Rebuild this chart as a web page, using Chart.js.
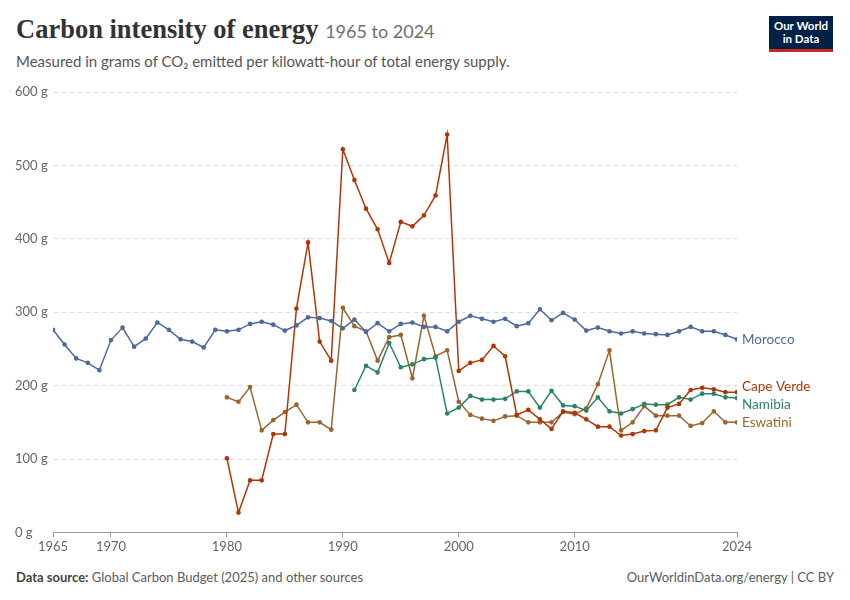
<!DOCTYPE html>
<html>
<head>
<meta charset="utf-8">
<script src="https://cdn.jsdelivr.net/npm/chart.js@4"></script>
<style>
  body { margin:0; width:850px; height:600px; background:#fff; font-family: Lato, "Open Sans", sans-serif; position:relative; overflow:hidden; }
  #title { position:absolute; left:16px; top:14px; font-family:"Liberation Serif", "DejaVu Serif", serif; font-weight:bold; font-size:26.5px; color:#333; }
  #title span { font-family: Lato, sans-serif; font-weight:normal; font-size:18px; color:#6e6e6e; }
  #sub { position:absolute; left:16px; top:52px; font-size:15px; color:#555; }
  #logo { position:absolute; left:769px; top:16px; width:64px; height:36px; background:#002147; border-bottom:3px solid #ce261e; color:#fff; font-size:11.5px; font-weight:bold; text-align:center; line-height:13px; padding-top:3px; box-sizing:border-box; }
  #foot { position:absolute; left:16px; top:569px; font-size:13px; color:#5b5b5b; }
  #foot b { color:#444; }
  #foot2 { position:absolute; right:16px; top:569px; font-size:13px; color:#5b5b5b; }
  #wrap { position:absolute; left:0; top:80px; width:850px; height:477px; }
</style>
</head>
<body>
<div id="title">Carbon intensity of energy <span>1965 to 2024</span></div>
<div id="sub">Measured in grams of CO₂ emitted per kilowatt-hour of total energy supply.</div>
<div id="logo">Our World<br>in Data</div>
<div id="wrap"><canvas id="c"></canvas></div>
<div id="foot"><b>Data source:</b> Global Carbon Budget (2025) and other sources</div>
<div id="foot2">OurWorldinData.org/energy | CC BY</div>
<script>
// --- data ---
const morocco = [276,256,237,231,221,262,279,253,264,286,276,263,260,252,276,274,276,284,287,283,
  275,282,293,292,288,278,290,273,285,274,284,286,280,280,274,287,295,291,287,291,
  281,285,304,289,299,290,275,279,274,271,274,271,270,269,274,280,274,274,269,263];
const capeVerde = [101,27,71,71,134,134,305,395,260,234,522,480,441,413,367,423,417,432,459,542,
  220,231,235,254,240,160,167,154,141,165,163,154,144,144,132,134,138,139,170,175,194,197,195,191,191];
const namibia = [194,227,218,258,225,229,236,238,162,170,186,181,181,182,192,192,170,193,173,172,
  166,184,165,162,168,175,174,174,184,181,189,189,184,183];
const eswatini = [184,178,198,139,153,164,174,150,150,140,306,281,274,234,266,269,210,295,240,248,
  178,160,155,152,158,159,150,150,150,164,161,169,202,248,139,150,172,159,159,159,145,149,165,150,150];
const xTicks = [1965,1970,1980,1990,2000,2010,2024];
const yTicks = [0,100,200,300,400,500,600];

const toPts = (arr, start) => arr.map((v, i) => ({ x: start + i, y: v }));

const series = [
  { label: 'Morocco', data: toPts(morocco, 1965), color: '#4c6a9c' },
  { label: 'Cape Verde', data: toPts(capeVerde, 1980), color: '#b13507' },
  { label: 'Namibia', data: toPts(namibia, 1991), color: '#2c8465' },
  { label: 'Eswatini', data: toPts(eswatini, 1980), color: '#9a652e' }
];

// labels at the end of each line, spread apart symmetrically if they overlap
const endLabels = {
  id: 'endLabels',
  afterDatasetsDraw(chart) {
    const ctx = chart.ctx;
    const items = chart.data.datasets.map((ds, i) => {
      const meta = chart.getDatasetMeta(i);
      const p = meta.data[meta.data.length - 1];
      return { text: ds.label, color: ds.borderColor, x: p.x, y: p.y };
    }).sort((a, b) => a.y - b.y);
    for (let k = 0; k < 30; k++) {
      for (let i = 1; i < items.length; i++) {
        const gap = items[i].y - items[i - 1].y;
        if (gap < 18) { const d = (18 - gap) / 2; items[i].y += d; items[i - 1].y -= d; }
      }
    }
    ctx.save();
    ctx.font = '13.5px Lato';
    ctx.textBaseline = 'middle';
    items.forEach(it => {
      ctx.fillStyle = it.color;
      ctx.fillText(it.text, it.x + 5, it.y);
    });
    ctx.restore();
  }
};

new Chart(document.getElementById('c'), {
  type: 'line',
  data: {
    datasets: series.map(s => ({
      label: s.label, data: s.data, borderColor: s.color, backgroundColor: s.color,
      borderWidth: 1.5, pointRadius: 1.6, pointHoverRadius: 1.6, tension: 0
    }))
  },
  options: {
    animation: false, responsive: true, maintainAspectRatio: false,
    layout: { padding: { left: 15, right: 113, top: 12, bottom: 0 } },
    plugins: { legend: { display: false }, tooltip: { enabled: false } },
    scales: {
      x: {
        type: 'linear', min: 1965, max: 2024,
        afterBuildTicks: ax => { ax.ticks = xTicks.map(v => ({ value: v })); },
        grid: { display: true, drawOnChartArea: false, drawTicks: true, tickLength: 5, color: '#999' },
        border: { color: '#999' },
        ticks: { color: '#666', font: { size: 13, family: 'Lato' }, autoSkip: false, maxRotation: 0, padding: 2, callback: v => String(v) }
      },
      y: {
        min: 0, max: 600,
        afterBuildTicks: ax => { ax.ticks = yTicks.map(v => ({ value: v })); },
        afterFit: ax => { ax.width = 38; },
        grid: { color: '#dcdcdc', drawTicks: false },
        border: { display: true, color: 'rgba(0,0,0,0)', dash: [4, 4] },
        ticks: { color: '#666', font: { size: 13, family: 'Lato' }, crossAlign: 'far', padding: 0, callback: v => v + ' g' }
      }
    }
  },
  plugins: [endLabels]
});
</script>
</body>
</html>
